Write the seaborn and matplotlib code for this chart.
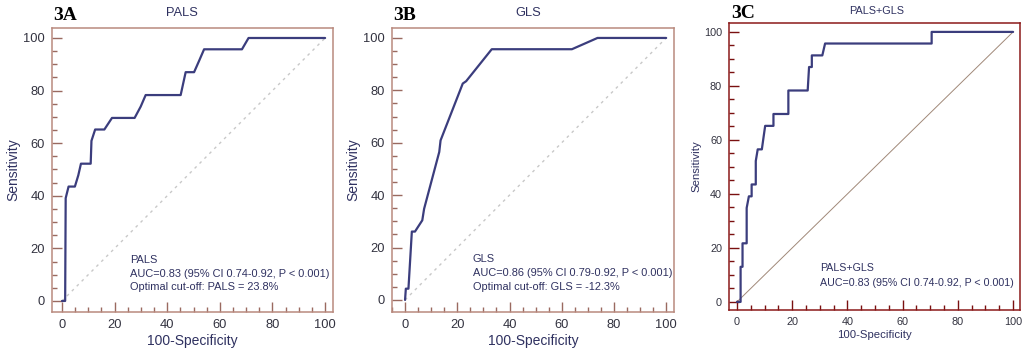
import matplotlib
matplotlib.use("Agg")
import matplotlib.pyplot as plt
import seaborn as sns
import pandas as pd
from matplotlib.ticker import MultipleLocator

# ROC points (100-Specificity, Sensitivity)
fpr_a = [0, 1.2, 1.4, 2.5, 4.9, 6.2, 7.2, 10.9, 11.2, 12.6, 16.1, 19.0, 27.6, 29.9, 31.8, 45.1, 47.0, 50.2, 52.1, 54.0, 68.4, 70.9, 100]
tpr_a = [0, 0, 39.1, 43.5, 43.5, 47.8, 52.2, 52.2, 60.9, 65.2, 65.2, 69.6, 69.6, 73.9, 78.3, 78.3, 87.0, 87.0, 91.3, 95.7, 95.7, 100, 100]

fpr_b = [0, 0.3, 1.3, 2.6, 3.8, 6.6, 7.3, 13.1, 13.6, 22.1, 23.4, 33.2, 63.9, 73.7, 100]
tpr_b = [0, 4.3, 4.3, 26.1, 26.1, 30.4, 34.8, 56.5, 60.9, 82.6, 83.5, 95.7, 95.7, 100, 100]

fpr_c = [0, 1.3, 1.3, 2.0, 2.0, 3.5, 3.5, 4.3, 5.3, 5.3, 6.8, 6.8, 7.5, 9.0, 9.6, 10.2, 13.2, 13.2, 18.6, 18.6, 25.6, 26.1, 27.1, 27.1, 30.9, 31.9, 70.5, 70.5, 100]
tpr_c = [0, 0, 13.0, 13.0, 21.7, 21.7, 34.8, 39.1, 39.1, 43.5, 43.5, 52.2, 56.5, 56.5, 60.9, 65.2, 65.2, 69.6, 69.6, 78.3, 78.3, 87.0, 87.0, 91.3, 91.3, 95.7, 95.7, 100, 100]

panel_tags = ["3A", "3B", "3C"]
panel_titles = ["PALS", "GLS", "PALS+GLS"]
panel_notes = [
    ["PALS", "AUC=0.83 (95% CI 0.74-0.92, P < 0.001)", "Optimal cut-off: PALS = 23.8%"],
    ["GLS", "AUC=0.86 (95% CI 0.79-0.92, P < 0.001)", "Optimal cut-off: GLS = -12.3%"],
    ["PALS+GLS", "AUC=0.83 (95% CI 0.74-0.92, P < 0.001)"],
]
ticks = [0, 20, 40, 60, 80, 100]

sns.set_theme(style="white")
plt.rcParams['font.family'] = ['Liberation Sans', 'DejaVu Sans']

CURVE = "#3b3d7d"
LABEL = "#2f3160"
TICKLBL = "#333340"

fig = plt.figure(figsize=(10.24, 3.54), dpi=100)
W, H = 1024, 354

# per-panel layout: frame in px, limits, style
layouts = [
    dict(frame=(52, 28, 333, 312), xlim=(-3.8, 103), ylim=(-4.2, 103.8), spine="#b98a7e", tick="#9a6a60",
         diag=dict(color="#c8c8c8", lw=1.0, ls=(0, (2, 3))), fs_tick=9.3, fs_lab=10, note_xy=(26, 15.6), note_dy=5.2,
         note_fs=7.9, title_xy=(182, 13), title_fs=9.3, tag_xy=(53, 15)),
    dict(frame=(392, 28, 674, 312), xlim=(-5.0, 103), ylim=(-4.6, 103.8), spine="#b98a7e", tick="#9a6a60",
         diag=dict(color="#c8c8c8", lw=1.0, ls=(0, (2, 3))), fs_tick=9.3, fs_lab=10, note_xy=(26, 15.5), note_dy=5.2,
         note_fs=7.9, title_xy=(528, 13), title_fs=9.3, tag_xy=(393, 15)),
    dict(frame=(729, 23, 1020, 310), xlim=(-2.9, 102.5), ylim=(-3.0, 103.3), spine="#8b1a1a", tick="#7a1010",
         diag=dict(color="#a08878", lw=0.7, ls="-"), fs_tick=7.8, fs_lab=8.2, note_xy=(30, 12.4), note_dy=5.3,
         note_fs=7.65, title_xy=(877, 11), title_fs=7.8, tag_xy=(731, 13)),
]
data = [(fpr_a, tpr_a), (fpr_b, tpr_b), (fpr_c, tpr_c)]

for i, lay in enumerate(layouts):
    l, t, r, b = lay["frame"]
    ax = fig.add_axes([l / W, (H - b) / H, (r - l) / W, (b - t) / H])
    fx, ty = data[i]
    df = pd.DataFrame({"fpr": fx, "tpr": ty})
    ax.plot([0, 100], [0, 100], color=lay["diag"]["color"], lw=lay["diag"]["lw"], linestyle=lay["diag"]["ls"])
    sns.lineplot(data=df, x="fpr", y="tpr", ax=ax, sort=False, estimator=None, color=CURVE, lw=1.6)
    ax.set_xlim(*lay["xlim"])
    ax.set_ylim(*lay["ylim"])
    ax.set_xticks(ticks)
    ax.set_yticks(ticks)
    ax.xaxis.set_minor_locator(MultipleLocator(5))
    ax.yaxis.set_minor_locator(MultipleLocator(5))
    ax.tick_params(which="major", direction="in", length=7, width=1, color=lay["tick"],
                   labelsize=lay["fs_tick"], labelcolor=TICKLBL, pad=5)
    ax.tick_params(which="minor", direction="in", length=3.8, width=1, color=lay["tick"])
    ax.tick_params(axis="both", which="both", bottom=True, left=True, top=False, right=False)
    for s in ax.spines.values():
        s.set_color(lay["spine"])
        s.set_linewidth(1.1)
    ax.set_xlabel("100-Specificity", fontsize=lay["fs_lab"], color=LABEL, labelpad=2)
    ax.set_ylabel("Sensitivity", fontsize=lay["fs_lab"], color=LABEL, labelpad=2)
    nx, ny = lay["note_xy"]
    for j, line in enumerate(panel_notes[i]):
        ax.text(nx, ny - j * lay["note_dy"], line, fontsize=lay["note_fs"], color=LABEL, va="center", ha="left")
    fig.text(lay["title_xy"][0] / W, 1 - lay["title_xy"][1] / H, panel_titles[i], fontsize=lay["title_fs"],
             color=LABEL, ha="center", va="center")
    fig.text(lay["tag_xy"][0] / W, 1 - lay["tag_xy"][1] / H, panel_tags[i], fontsize=14, fontweight="bold",
             family="Liberation Serif", color="black", ha="left", va="center")

fig.savefig("out.png", dpi=100, facecolor="white")
